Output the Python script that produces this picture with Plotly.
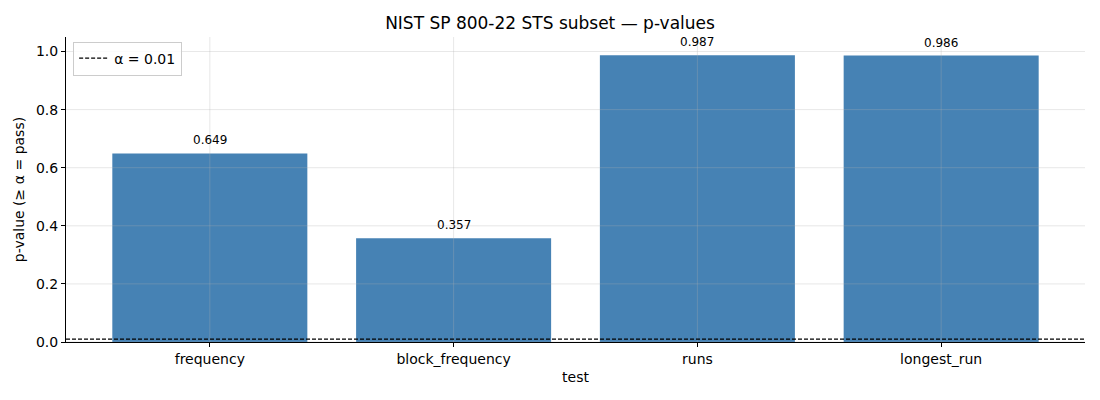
import plotly.graph_objects as go

tests = ["frequency", "block_frequency", "runs", "longest_run"]
p_values = [0.649, 0.357, 0.987, 0.986]
alpha = 0.01
y_ticks = [0.0, 0.2, 0.4, 0.6, 0.8, 1.0]

GRID = "rgba(176,176,176,0.3)"
DASH = "4px,2px"

fig = go.Figure()

fig.add_trace(
    go.Bar(
        x=tests,
        y=p_values,
        width=0.8,
        marker={"color": "#4682B4", "line": {"width": 0}},
        showlegend=False,
        hoverinfo="x+y",
    )
)

# legend entry for the threshold line
fig.add_trace(
    go.Scatter(
        x=[None],
        y=[None],
        mode="lines",
        line={"color": "black", "width": 1.2, "dash": DASH},
        name="α = 0.01",
    )
)

# grid drawn on top of the bars, like the original
for t in tests:
    fig.add_shape(type="line", xref="x", yref="paper", x0=t, x1=t, y0=0, y1=1,
                  line={"color": GRID, "width": 1}, layer="above")
for v in y_ticks:
    fig.add_shape(type="line", xref="paper", yref="y", x0=0, x1=1, y0=v, y1=v,
                  line={"color": GRID, "width": 1}, layer="above")

fig.add_shape(
    type="line",
    xref="paper",
    yref="y",
    x0=0,
    x1=1,
    y0=alpha,
    y1=alpha,
    line={"color": "black", "width": 1.2, "dash": DASH},
    layer="above",
)

for t, p in zip(tests, p_values):
    fig.add_annotation(
        x=t,
        y=p,
        text=f"{p:.3f}",
        showarrow=False,
        yanchor="bottom",
        yshift=4,
        font={"size": 12, "color": "black"},
    )

axis_common = {
    "showgrid": False,
    "showline": True,
    "linecolor": "black",
    "linewidth": 1,
    "ticks": "outside",
    "ticklen": 4,
    "tickcolor": "black",
    "tickfont": {"size": 14, "color": "black"},
    "layer": "above traces",
    "zeroline": False,
    "automargin": False,
}

fig.update_layout(
    width=1100,
    height=400,
    template="plotly_white",
    plot_bgcolor="white",
    paper_bgcolor="white",
    font={"family": "DejaVu Sans", "size": 14, "color": "black"},
    title={"text": "NIST SP 800-22 STS subset — p-values", "x": 0.5, "y": 0.943,
           "xanchor": "center", "yanchor": "middle",
           "font": {"size": 17, "color": "black"}},
    margin={"l": 66, "r": 15, "t": 37, "b": 58},
    legend={
        "x": 0.007,
        "y": 0.985,
        "xanchor": "left",
        "yanchor": "top",
        "bordercolor": "#cccccc",
        "borderwidth": 1,
        "bgcolor": "rgba(255,255,255,0.8)",
        "font": {"size": 14, "color": "black"},
        "tracegroupgap": 0,
    },
    xaxis={
        **axis_common,
        "title": {"text": "test", "standoff": 6, "font": {"size": 14, "color": "black"}},
        "range": [-0.59, 3.59],
    },
    yaxis={
        **axis_common,
        "title": {"text": "p-value (≥ α = pass)", "standoff": 8,
                  "font": {"size": 14, "color": "black"}},
        "range": [0, 1.05],
        "tickvals": y_ticks,
        "tickformat": ".1f",
    },
)

# drop the default page margin so the figure sits at the window's corner
fig.write_html(
    "out.html",
    config={"displayModeBar": False},
    post_script="document.body.style.margin='0';",
)
